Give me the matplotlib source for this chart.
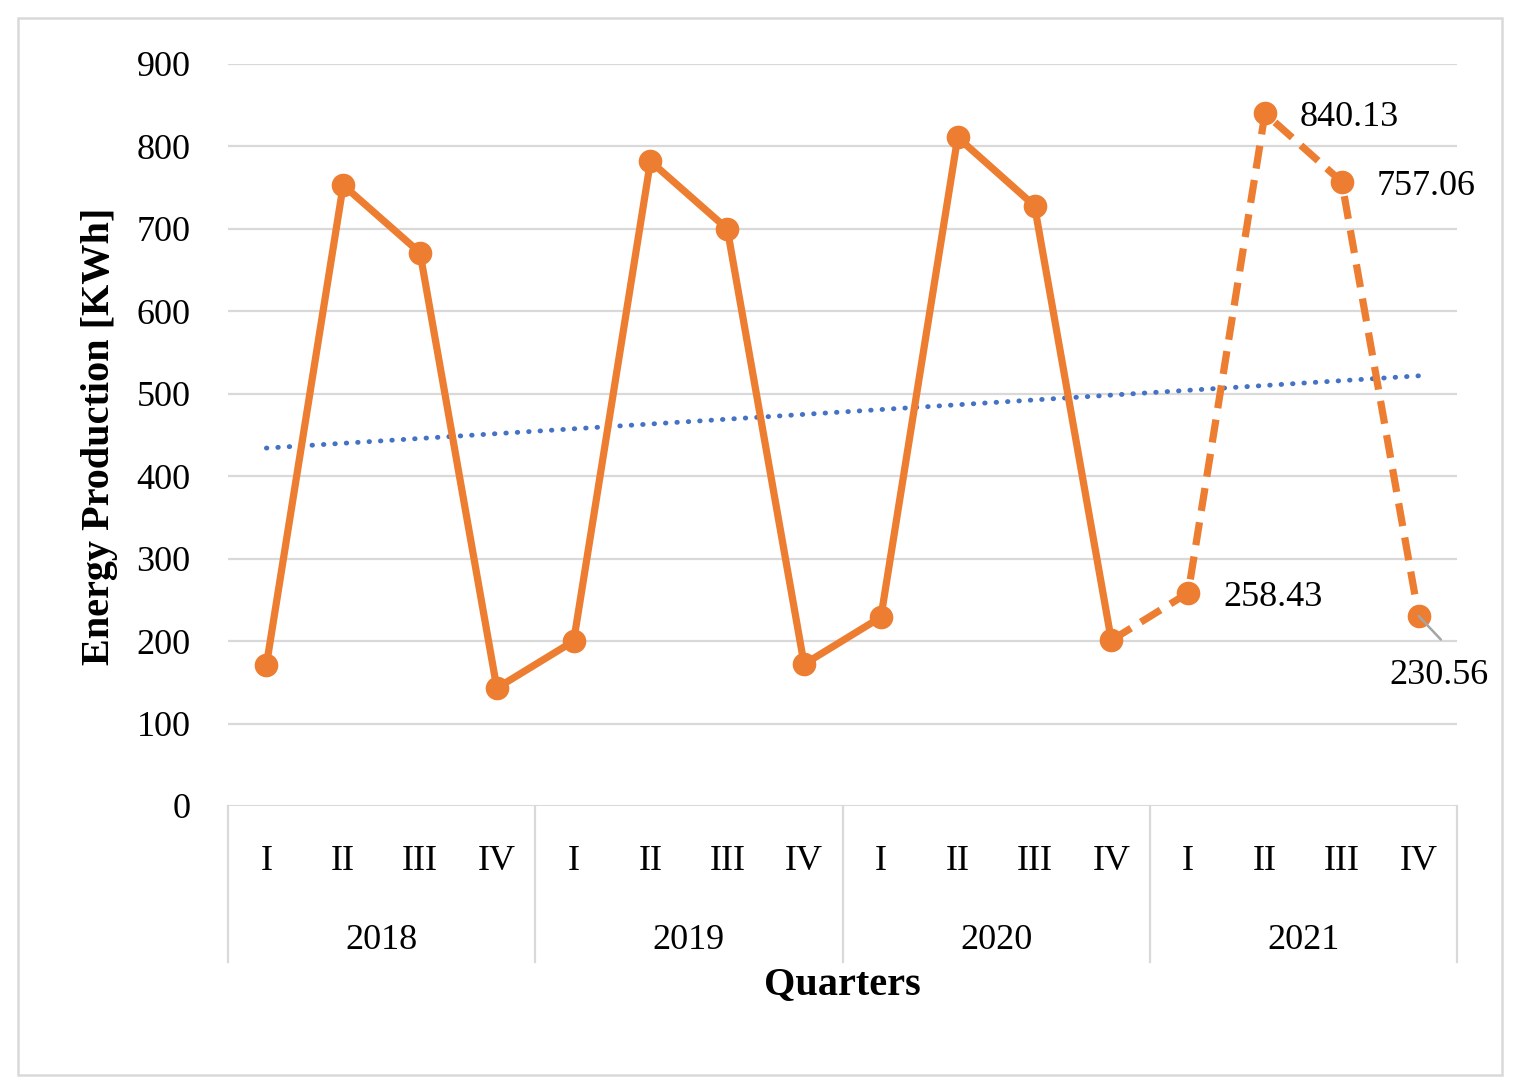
import numpy as np
import matplotlib
matplotlib.use("Agg")
import matplotlib.pyplot as plt
import matplotlib.transforms as mtransforms
from matplotlib.patches import Rectangle

plt.rcParams['font.family'] = ['Liberation Serif', 'DejaVu Serif']

# data
years = ['2018', '2019', '2020', '2021']
quarters = ['I', 'II', 'III', 'IV']
actual = [171, 753, 671, 143, 200, 782, 700, 172, 229, 811, 728, 201]
forecast = [258.43, 840.13, 757.06, 230.56]
y_ticks = [0, 100, 200, 300, 400, 500, 600, 700, 800, 900]

orange = '#ED7D31'
blue = '#4472C4'
grid_grey = '#D9D9D9'
fs = 26

fig = plt.figure(figsize=(15.19, 10.92), dpi=100)
W, H = 1519, 1092
ax = fig.add_axes([228 / W, 1 - 806 / H, (1457 - 228) / W, (806 - 64) / H])

n = len(actual) + len(forecast)
x = np.arange(n)
all_vals = np.array(actual + forecast)

# gridlines
for t in y_ticks[1:]:
    ax.axhline(t, color=grid_grey, lw=1.6, zorder=0)
ax.axhline(0, color=grid_grey, lw=2.2, zorder=1)

# actual (solid)
ax.plot(x[:len(actual)], actual, color=orange, lw=5.2, marker='o', markersize=16,
        solid_joinstyle='round', zorder=3)
# forecast (dashed) starting from last actual point
fx = x[len(actual) - 1:]
fy = [actual[-1]] + forecast
ax.plot(fx, fy, color=orange, lw=5.2, dashes=(3.2, 1.6), dash_capstyle='butt', zorder=3)
ax.plot(x[len(actual):], forecast, linestyle='none', color=orange, marker='o',
        markersize=16, zorder=4)

# linear trend line
coef = np.polyfit(x, all_vals, 1)
ax.plot(x, np.polyval(coef, x), color=blue, lw=3.5, linestyle=(0, (0.1, 2.25)),
        dash_capstyle='round', zorder=2)

# data labels for forecast
fx_l = x[len(actual):]
for xi, v in zip(fx_l[:3], forecast[:3]):
    ax.annotate(f'{v:.2f}', (xi, v), xytext=(25, -3), textcoords='offset points',
                ha='left', va='center', fontsize=fs)
ax.annotate('', (fx_l[3], forecast[3]), xytext=(16, -17), textcoords='offset points',
            arrowprops=dict(arrowstyle='-', color='#A5A5A5', lw=1.8,
                            shrinkA=0, shrinkB=0), zorder=5)
ax.annotate(f'{forecast[3]:.2f}', (fx_l[3], forecast[3]), xytext=(15, -43),
            textcoords='offset points', ha='center', va='center', fontsize=fs)

ax.set_xlim(-0.5, n - 0.5)
ax.set_ylim(0, 900)
ax.set_yticks(y_ticks)
ax.tick_params(axis='y', length=0, pad=27, labelsize=fs)
ax.set_xticks([])
for s in ax.spines.values():
    s.set_visible(False)

# two-level category axis
trans = mtransforms.blended_transform_factory(ax.transData, ax.transAxes)
for i in range(n):
    ax.text(i, -0.075, quarters[i % 4], transform=trans, ha='center', va='center',
            fontsize=fs)
for j, yr in enumerate(years):
    ax.text(j * 4 + 1.5, -0.181, yr, transform=trans, ha='center', va='center',
            fontsize=fs)
for k in range(len(years) + 1):
    ax.plot([k * 4 - 0.5] * 2, [0, -0.210], transform=trans, color=grid_grey,
            lw=1.6, clip_on=False)

ax.text(0.5, -0.240, 'Quarters', transform=ax.transAxes, ha='center', va='center',
        fontsize=29, fontweight='bold')
fig.text(100 / W, 1 - 436 / H, 'Energy Production [KWh]', rotation=90,
         ha='center', va='center', fontsize=29, fontweight='bold')

# outer chart border
fig.patches.append(Rectangle((18 / W, 1 - 1075 / H), (1502 - 18) / W, (1075 - 18) / H,
                             transform=fig.transFigure, fill=False,
                             edgecolor=grid_grey, lw=1.8))

fig.savefig('out.png', dpi=100)
